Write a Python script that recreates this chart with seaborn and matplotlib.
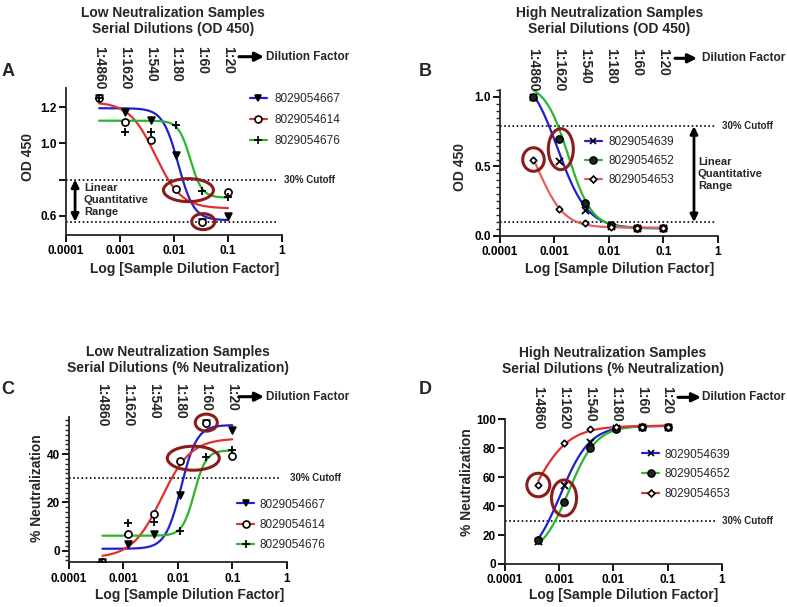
import numpy as np
import pandas as pd
import matplotlib
matplotlib.use("Agg")
import matplotlib.pyplot as plt
import matplotlib.transforms as mtransforms
from matplotlib.patches import Ellipse
from matplotlib.lines import Line2D
from matplotlib.ticker import MultipleLocator, NullLocator, FixedLocator
import seaborn as sns

# ---------------- data ----------------
dilution_labels = ["1:4860", "1:1620", "1:540", "1:180", "1:60", "1:20"]
dilution_x = [0.000412, 0.00123, 0.0037, 0.0111, 0.0333, 0.1]

low_ids = ["8029054667", "8029054614", "8029054676"]
high_ids = ["8029054639", "8029054652", "8029054653"]

# Panel A: OD 450, low neutralization
a_667 = [1.25, 1.175, 1.13, 0.935, 0.567, 0.60]
a_614 = [1.25, 1.117, 1.018, 0.747, 0.567, 0.731]
a_676 = [1.25, 1.066, 1.066, 1.10, 0.737, 0.703]
# Panel B: OD 450, high neutralization
b_639 = [1.0, 0.54, 0.187, 0.075, 0.06, 0.06]
b_652 = [1.0, 0.70, 0.236, 0.08, 0.06, 0.06]
b_653 = [0.55, 0.195, 0.09, 0.065, 0.06, 0.06]
# Panel C: % neutralization, low
c_667 = [-4.5, 2.6, 6.8, 23.0, 53.0, 50.0]
c_614 = [-4.8, 7.0, 15.2, 37.2, 53.0, 39.0]
c_676 = [-4.5, 11.3, 11.7, 8.2, 38.9, 41.7]
# Panel D: % neutralization, high
d_639 = [16.0, 54.6, 84.5, 94.0, 95.0, 95.0]
d_652 = [16.6, 42.6, 80.4, 93.5, 95.0, 95.0]
d_653 = [54.6, 83.8, 93.0, 94.5, 95.0, 95.0]

# fitted 4PL curves: [left plateau, right plateau, EC50, Hill]
a_fit_667 = [1.195, 0.575, 0.012, 3.0]
a_fit_614 = [1.23, 0.64, 0.0045, 1.8]
a_fit_676 = [1.126, 0.70, 0.02, 4.0]
b_fit_639 = [1.2, 0.055, 0.00115, 1.6]
b_fit_652 = [1.1, 0.055, 0.0018, 2.0]
b_fit_653 = [0.9, 0.06, 0.0005, 1.8]
c_fit_667 = [0.8, 52.0, 0.0115, 3.0]
c_fit_614 = [-3.0, 46.5, 0.005, 1.6]
c_fit_676 = [6.2, 41.5, 0.02, 4.0]
d_fit_639 = [0.0, 95.5, 0.00105, 1.6]
d_fit_652 = [5.0, 95.5, 0.0015, 1.7]
d_fit_653 = [0.0, 95.5, 0.0003, 1.3]

# ---------------- style ----------------
sns.set_style("ticks")
plt.rcParams["font.family"] = ["Liberation Sans", "DejaVu Sans"]
plt.rcParams["axes.linewidth"] = 1.3

W, H = 787, 607
fig = plt.figure(figsize=(W / 100, H / 100), dpi=100)

BLUE, RED, GREEN, LRED = "#2020d0", "#e03030", "#2db52d", "#e46060"
ELL = "#8b1c1c"
MSIZE = {"o": 26, "D": 11, "v": 24, "+": 28, "x": 26}
LEG_MS = {"o": 5, "D": 3.5, "v": 5, "+": 5.5, "x": 5}


def add_ax(l, t, r, b):
    return fig.add_axes([l / W, 1 - b / H, (r - l) / W, (b - t) / H])


def T(x, y, s, **kw):
    kw.setdefault("ha", "center")
    kw.setdefault("va", "center")
    return fig.text(x / W, 1 - y / H, s, **kw)


def curve(p, xs):
    left, right, ec50, hill = p
    xs = np.asarray(xs)
    return right + (left - right) / (1 + (xs / ec50) ** hill)


def draw_panel(ax, ids, series, fits, colors, markers, ylim):
    xs = np.logspace(np.log10(dilution_x[0]), np.log10(dilution_x[-1]), 300)
    frames = []
    for sid, p in zip(ids, fits):
        frames.append(pd.DataFrame({"x": xs, "y": curve(p, xs), "sample": sid}))
    df = pd.concat(frames)
    sns.lineplot(data=df, x="x", y="y", hue="sample", palette=dict(zip(ids, colors)),
                 ax=ax, legend=False, lw=1.6, estimator=None, sort=False, zorder=2)
    for vals, (m, fc) in zip(series, markers):
        if m in ("+", "x"):
            sns.scatterplot(x=dilution_x, y=vals, marker=m, color="black", s=MSIZE[m],
                            linewidth=1.3, ax=ax, zorder=3, legend=False)
        else:
            sns.scatterplot(x=dilution_x, y=vals, marker=m, s=MSIZE[m],
                            facecolor=fc, edgecolor="black", linewidth=1.2,
                            ax=ax, zorder=3, legend=False)
    ax.set_xscale("log")
    ax.set_xlim(1e-4, 1)
    ax.set_ylim(*ylim)
    ax.set_xticks([1e-4, 1e-3, 1e-2, 1e-1, 1])
    ax.set_xticklabels(["0.0001", "0.001", "0.01", "0.1", "1"])
    ax.xaxis.set_minor_locator(NullLocator())
    ax.set_xlabel("")
    ax.set_ylabel("")
    sns.despine(ax=ax)
    ax.tick_params(axis="both", which="major", direction="out", length=5, width=1.3,
                   labelsize=8.5, pad=1.5, colors="black")
    ax.tick_params(axis="x", pad=2.5)
    ax.tick_params(axis="y", which="minor", direction="out", length=3, width=1.0)
    for lab in ax.get_xticklabels() + ax.get_yticklabels():
        lab.set_fontweight("bold")
    handles = []
    for c, (m, fc) in zip(colors, markers):
        handles.append(Line2D([], [], color=c, lw=1.6, marker=m, markersize=LEG_MS[m],
                              markerfacecolor="black" if m in ("+", "x") else fc,
                              markeredgecolor="black", markeredgewidth=1.2))
    return handles


def dil_labels(ax, top_px):
    tr = mtransforms.blended_transform_factory(ax.transData, fig.transFigure)
    for x, lab in zip(dilution_x, dilution_labels):
        ax.text(x, 1 - top_px / H, lab, transform=tr, rotation=-90, ha="center", va="top",
                fontsize=10, fontweight="bold", clip_on=False)


def dil_arrow(x0, x1, y, tx):
    fig.add_artist(matplotlib.patches.FancyArrowPatch(
        (x0 / W, 1 - y / H), (x1 / W, 1 - y / H), transform=fig.transFigure,
        arrowstyle="-|>", mutation_scale=13, lw=2.2, color="black", shrinkA=0, shrinkB=0))
    T(tx, y, "Dilution Factor", ha="left", fontsize=8.5, fontweight="bold")


def ellipse(ax, x, y, dx, dy, w, h):
    tr = mtransforms.ScaledTranslation(x, y, ax.transData)
    e = Ellipse((dx, -dy), w, h, transform=tr, fill=False, edgecolor=ELL, lw=2.2,
                clip_on=False, zorder=5)
    ax.add_artist(e)


def cutoff(ax, y, xmax):
    ax.axhline(y, xmin=0, xmax=xmax, color="black", ls=(0, (1, 1.5)), lw=1.2, zorder=1)


def dbl_arrow(ax, xf, y0, y1):
    tr = mtransforms.blended_transform_factory(ax.transAxes, ax.transData)
    ax.add_artist(matplotlib.patches.FancyArrowPatch(
        (xf, y0), (xf, y1), transform=tr, arrowstyle="<|-|>", mutation_scale=11,
        lw=2.0, color="black", shrinkA=0, shrinkB=0, clip_on=False))


bold = dict(fontweight="bold")
open_markers_low = [("v", "black"), ("o", "white"), ("+", "black")]
markers_high = [("x", "black"), ("o", "#222222"), ("D", "white")]

# ---------------- Panel A ----------------
axA = add_ax(66, 88, 282, 235)
hA = draw_panel(axA, low_ids, [a_667, a_614, a_676], [a_fit_667, a_fit_614, a_fit_676],
                [BLUE, RED, GREEN], open_markers_low, (0.493, 1.307))
axA.yaxis.set_major_locator(FixedLocator([0.6, 0.8, 1.0, 1.2]))
axA.set_yticklabels(["0.6", "", "1.0", "1.2"], fontweight="bold")
cutoff(axA, 0.80, 0.98)
cutoff(axA, 0.567, 0.98)
dbl_arrow(axA, 0.042, 0.80, 0.567)
T(84, 200, "Linear\nQuantitative\nRange", ha="left", fontsize=8, linespacing=1.3, **bold)
T(284, 180, "30% Cutoff", ha="left", fontsize=7, **bold)
ellipse(axA, 0.0111, 0.747, 12, 1, 50, 23)
ellipse(axA, 0.0333, 0.567, 1, 0, 23, 16)
axA.legend(handles=hA, labels=low_ids, loc="upper left", bbox_to_anchor=(250 / W, 1 - 93 / H),
           bbox_transform=fig.transFigure, frameon=False, borderpad=0, borderaxespad=0,
           handlelength=1.4, handletextpad=0.65, labelspacing=0.75, fontsize=8.5)
dil_labels(axA, 46.5)
dil_arrow(239, 264, 56.7, 266)
T(173, 21, "Low Neutralization Samples\nSerial Dilutions (OD 450)", fontsize=10,
  linespacing=1.2, **bold)
T(185, 269, "Log [Sample Dilution Factor]", fontsize=10, **bold)
T(28, 157, "OD 450", rotation=90, fontsize=10, **bold)
T(8, 71, "A", fontsize=13, **bold)

# ---------------- Panel B ----------------
axB = add_ax(500, 90, 717.7, 236)
hB = draw_panel(axB, high_ids, [b_639, b_652, b_653], [b_fit_639, b_fit_652, b_fit_653],
                [BLUE, GREEN, LRED], markers_high, (0, 1.05))
axB.yaxis.set_major_locator(FixedLocator([0, 0.5, 1.0]))
axB.set_yticklabels(["0.0", "0.5", "1.0"], fontweight="bold")
axB.yaxis.set_minor_locator(MultipleLocator(0.05))
cutoff(axB, 0.79, 0.99)
cutoff(axB, 0.10, 0.99)
dbl_arrow(axB, 0.891, 0.79, 0.10)
T(698, 174, "Linear\nQuantitative\nRange", ha="left", fontsize=8, linespacing=1.3, **bold)
T(721.7, 126, "30% Cutoff", ha="left", fontsize=7, **bold)
ellipse(axB, 0.000412, 0.55, 0, 0, 21.5, 23.5)
ellipse(axB, 0.00123, 0.70, 1.5, 10.5, 25, 41)
axB.legend(handles=hB, labels=high_ids, loc="upper left", bbox_to_anchor=(585 / W, 1 - 136 / H),
           bbox_transform=fig.transFigure, frameon=False, borderpad=0, borderaxespad=0,
           handlelength=1.4, handletextpad=0.6, labelspacing=0.6, fontsize=8.5)
dil_labels(axB, 48.3)
dil_arrow(675, 697, 58.3, 701.7)
T(609.5, 21, "High Neutralization Samples\nSerial Dilutions (OD 450)", fontsize=10,
  linespacing=1.2, **bold)
T(620, 269.3, "Log [Sample Dilution Factor]", fontsize=10, **bold)
T(460, 167, "OD 450", rotation=90, fontsize=10, **bold)
T(425, 72, "B", fontsize=13, **bold)

# ---------------- Panel C ----------------
axC = add_ax(69, 417.3, 286.7, 562.3)
hC = draw_panel(axC, low_ids, [c_667, c_614, c_676], [c_fit_667, c_fit_614, c_fit_676],
                [BLUE, RED, GREEN], open_markers_low, (-4.8, 55.2))
axC.yaxis.set_major_locator(FixedLocator([0, 20, 40]))
axC.set_yticklabels(["0", "20", "40"], fontweight="bold")
axC.yaxis.set_minor_locator(MultipleLocator(2))
cutoff(axC, 30, 0.965)
T(290, 478.3, "30% Cutoff", ha="left", fontsize=7, **bold)
ellipse(axC, 0.0333, 53.0, 0, 0, 22, 17)
ellipse(axC, 0.0111, 37.2, 13, -2.6, 52, 24)
axC.legend(handles=hC, labels=low_ids, loc="upper left", bbox_to_anchor=(236.7 / W, 1 - 498.5 / H),
           bbox_transform=fig.transFigure, frameon=False, borderpad=0, borderaxespad=0,
           handlelength=1.5, handletextpad=0.45, labelspacing=0.7, fontsize=8.5)
dil_labels(axC, 383.3)
dil_arrow(239, 264, 396.7, 266)
T(177.7, 360, "Low Neutralization Samples\nSerial Dilutions (% Neutralization)", fontsize=10,
  linespacing=1.2, **bold)
T(189.3, 595, "Log [Sample Dilution Factor]", fontsize=10, **bold)
T(36.7, 488, "% Neutralization", rotation=90, fontsize=10, **bold)
T(8, 390, "C", fontsize=13, **bold)

# ---------------- Panel D ----------------
axD = add_ax(505, 419.3, 721.7, 564)
hD = draw_panel(axD, high_ids, [d_639, d_652, d_653], [d_fit_639, d_fit_652, d_fit_653],
                [BLUE, GREEN, RED], markers_high, (0, 100))
axD.yaxis.set_major_locator(FixedLocator([0, 20, 40, 60, 80, 100]))
axD.set_yticklabels(["0", "20", "40", "60", "80", "100"], fontweight="bold")
cutoff(axD, 30, 0.98)
T(721.7, 520.7, "30% Cutoff", ha="left", fontsize=7, **bold)
ellipse(axD, 0.000412, 54.6, 0, 0, 23, 23.5)
ellipse(axD, 0.00123, 42.6, 0, -4.4, 25, 36)
axD.legend(handles=hD, labels=high_ids, loc="upper left", bbox_to_anchor=(641.7 / W, 1 - 448.5 / H),
           bbox_transform=fig.transFigure, frameon=False, borderpad=0, borderaxespad=0,
           handlelength=1.5, handletextpad=0.45, labelspacing=0.65, fontsize=8.5)
dil_labels(axD, 386)
dil_arrow(678, 701, 397.3, 701.7)
T(612.5, 361, "High Neutralization Samples\nSerial Dilutions (% Neutralization)", fontsize=10,
  linespacing=1.2, **bold)
T(623.3, 595, "Log [Sample Dilution Factor]", fontsize=10, **bold)
T(466.7, 481.7, "% Neutralization", rotation=90, fontsize=10, **bold)
T(425, 390, "D", fontsize=13, **bold)

fig.savefig("out.png", dpi=100)
